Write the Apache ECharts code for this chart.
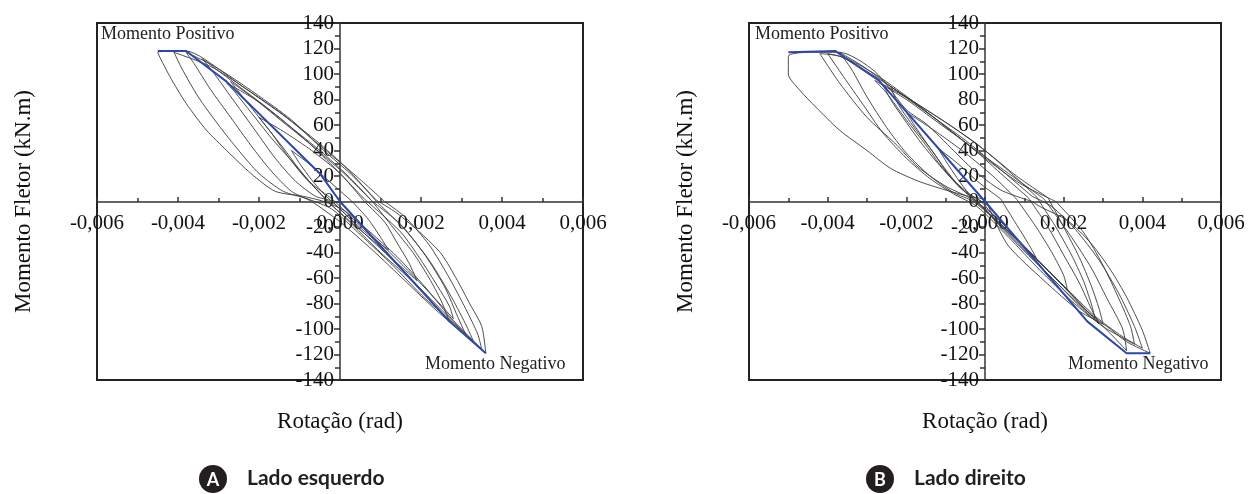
<!DOCTYPE html>
<html>
<head>
<meta charset="utf-8">
<script src="https://cdn.jsdelivr.net/npm/echarts@6/dist/echarts.min.js"></script>
<style>
  html, body { margin: 0; background: #fff; }
  #grafico { width: 1249px; height: 494px; }
</style>
</head>
<body>
<div id="grafico"></div>
<script>
// Rotação (rad) x Momento Fletor (kN.m)
var paineis = ['Lado esquerdo', 'Lado direito'];
var letras = ['A', 'B'];

// envoltória (linha azul)
var envolventeEsq = [[-0.0045, 118], [-0.0038, 118], [-0.0028, 94], [-0.0005, 22], [0, 0], [0.0027, -94], [0.0036, -119]];
var envolventeDir = [[-0.005, 117], [-0.0038, 118], [-0.0027, 95], [0, 0], [0.0026, -94], [0.0036, -119], [0.0042, -119]];

// ciclos - lado esquerdo
var cicloE1 = [[0.0003, 0], [-0.0002, 14], [-0.0007, 28], [-0.0012, 40], [-0.001, 30], [-0.0007, 17], [-0.0004, 6], [-0.0002, 0], [0.0002, -12], [0.0007, -26], [0.0012, -38], [0.001, -28], [0.0007, -14], [0.0003, 0]];
var cicloE2 = [[0.0006, 0], [0, 22], [-0.0007, 40], [-0.0014, 55], [-0.002, 66], [-0.0017, 54], [-0.0013, 36], [-0.0009, 20], [-0.0005, 7], [-0.0003, 0], [0.0003, -17], [0.0009, -33], [0.0014, -48], [0.0019, -62], [0.0017, -48], [0.0014, -32], [0.0011, -16], [0.0006, 0]];
var cicloE3 = [[0.0008, 0], [0.0002, 20], [-0.0005, 40], [-0.0012, 58], [-0.002, 78], [-0.0027, 94], [-0.0024, 82], [-0.0019, 62], [-0.0014, 42], [-0.001, 25], [-0.0006, 10], [-0.0003, 0], [0.0003, -18], [0.001, -40], [0.0017, -60], [0.0023, -80], [0.0027, -94], [0.0025, -78], [0.0022, -60], [0.0018, -40], [0.0013, -20], [0.0008, 0]];
var cicloE3b = [[0.0006, 2], [0, 22], [-0.0007, 44], [-0.0014, 62], [-0.0021, 80], [-0.0028, 93], [-0.0026, 86], [-0.0022, 70], [-0.0017, 50], [-0.0012, 32], [-0.0007, 14], [-0.0002, 2], [0.0004, -16], [0.0011, -36], [0.0018, -58], [0.0024, -78], [0.0028, -92], [0.0027, -82], [0.0024, -66], [0.002, -46], [0.0015, -24], [0.0006, 2]];
var cicloE4 = [[0.0009, 0], [0.0002, 25], [-0.0006, 48], [-0.0015, 70], [-0.0024, 90], [-0.0031, 106], [-0.0038, 117], [-0.0036, 108], [-0.0032, 88], [-0.0027, 66], [-0.0022, 44], [-0.0017, 24], [-0.0012, 8], [-0.0007, 0], [0, -16], [0.0008, -38], [0.0016, -62], [0.0024, -86], [0.0033, -110], [0.0031, -96], [0.0027, -72], [0.0022, -46], [0.0016, -22], [0.0009, 0]];
var cicloE5 = [[0.0009, 1], [0.00025, 22], [-0.0004, 40], [-0.0012, 64], [-0.0021, 85], [-0.0029, 102], [-0.0038, 118], [-0.0045, 117], [-0.0042, 98], [-0.0038, 77], [-0.0033, 56], [-0.0028, 40], [-0.0022, 22], [-0.0016, 8], [-0.0009, 4], [-0.0004, 0], [0.0001, -7], [0.0006, -20], [0.0014, -43], [0.0021, -67], [0.0027, -90], [0.0036, -119], [0.0035, -98], [0.0032, -80], [0.0029, -62], [0.0025, -41], [0.002, -25], [0.0014, -9], [0.0009, 1]];
var cicloE6 = [[0.0008, 0], [0.0001, 22], [-0.0007, 44], [-0.0015, 66], [-0.0024, 88], [-0.0034, 112], [-0.0031, 100], [-0.0026, 78], [-0.0021, 56], [-0.0016, 34], [-0.0011, 16], [-0.0006, 4], [-0.0002, 0], [0.0005, -22], [0.0013, -46], [0.0021, -72], [0.0031, -104], [0.0029, -90], [0.0026, -68], [0.0021, -42], [0.0015, -18], [0.0008, 0]];
var cicloE7 = [[0.0011, 0], [0.0004, 20], [-0.0005, 44], [-0.0014, 68], [-0.0023, 88], [-0.0032, 106], [-0.0041, 117], [-0.0039, 104], [-0.0035, 82], [-0.003, 60], [-0.0025, 40], [-0.002, 22], [-0.0014, 8], [-0.0008, 2], [-0.0002, -6], [0.0005, -26], [0.0013, -50], [0.0021, -76], [0.0029, -98], [0.0035, -116], [0.0034, -104], [0.0031, -84], [0.0027, -60], [0.0022, -34], [0.0016, -12], [0.0011, 0]];

// ciclos - lado direito
var cicloD1 = [[0.0004, 2], [-0.0002, 16], [-0.0007, 30], [-0.0012, 42], [-0.001, 32], [-0.0007, 18], [-0.0004, 6], [-0.0001, 0], [0.0003, -14], [0.0008, -30], [0.0013, -44], [0.0011, -33], [0.0008, -18], [0.0004, 2]];
var cicloD2 = [[0.0008, 2], [0.0002, 20], [-0.0005, 38], [-0.0013, 56], [-0.002, 70], [-0.0018, 60], [-0.0014, 42], [-0.001, 25], [-0.0006, 10], [-0.0002, 0], [0.0004, -18], [0.001, -36], [0.0016, -54], [0.0021, -70], [0.002, -58], [0.0017, -40], [0.0013, -20], [0.0008, 2]];
var cicloD3 = [[0.0011, 3], [0.0004, 22], [-0.0004, 44], [-0.0012, 62], [-0.002, 80], [-0.0028, 95], [-0.0025, 85], [-0.002, 64], [-0.0015, 44], [-0.0011, 27], [-0.0006, 10], [-0.0002, 0], [0.0004, -20], [0.0011, -42], [0.0018, -63], [0.0024, -82], [0.0029, -96], [0.0027, -84], [0.0024, -64], [0.002, -42], [0.0016, -20], [0.0011, 3]];
var cicloD3b = [[0.0013, 4], [0.0006, 24], [-0.0002, 45], [-0.001, 62], [-0.0018, 78], [-0.0026, 92], [-0.0024, 80], [-0.002, 62], [-0.0016, 45], [-0.0012, 30], [-0.0007, 13], [-0.0003, 2], [0.0003, -16], [0.001, -38], [0.0017, -60], [0.0023, -78], [0.0028, -92], [0.0027, -80], [0.0025, -62], [0.0022, -42], [0.0018, -20], [0.0013, 4]];
var cicloD3c = [[0.0016, 3], [0.0008, 20], [0, 40], [-0.0008, 58], [-0.0016, 74], [-0.0024, 90], [-0.0022, 76], [-0.0018, 58], [-0.0013, 38], [-0.0009, 20], [-0.0004, 6], [0.0001, -4], [0.0007, -26], [0.0014, -48], [0.0021, -70], [0.0026, -86], [0.003, -96], [0.0029, -84], [0.0027, -66], [0.0024, -44], [0.002, -20], [0.0016, 3]];
var cicloD4 = [[0.0015, 2], [0.0006, 22], [-0.0004, 44], [-0.0013, 66], [-0.0022, 86], [-0.003, 102], [-0.0037, 114], [-0.0042, 116], [-0.0037, 93], [-0.003, 66], [-0.0023, 46], [-0.0017, 27], [-0.001, 12], [-0.0004, 3], [0.0002, -10], [0.001, -35], [0.0018, -60], [0.0026, -86], [0.0032, -104], [0.0036, -117], [0.0035, -100], [0.0031, -76], [0.0027, -52], [0.0022, -28], [0.0015, 2]];
var cicloD5 = [[0.0012, 4], [0.0004, 25], [-0.0005, 48], [-0.0014, 68], [-0.0023, 88], [-0.0031, 106], [-0.0037, 117], [-0.0034, 104], [-0.003, 82], [-0.0025, 58], [-0.002, 38], [-0.0014, 20], [-0.0008, 7], [-0.0003, 0], [0.0004, -18], [0.0012, -42], [0.002, -66], [0.0028, -90], [0.0035, -106], [0.004, -115], [0.0038, -98], [0.0034, -72], [0.0029, -46], [0.0023, -22], [0.0017, -4], [0.0012, 4]];
var cicloD6 = [[0.0012, 0], [0.0004, 9], [-0.0003, 25], [-0.0008, 40], [-0.0015, 61], [-0.002, 72], [-0.0028, 102], [-0.0037, 117], [-0.0045, 117], [-0.005, 114], [-0.005, 100], [-0.0047, 87], [-0.0043, 74], [-0.0037, 56], [-0.003, 40], [-0.0024, 26], [-0.0017, 16], [-0.001, 9], [-0.0004, 4], [0, 1], [0.0002, -12], [0.0006, -35], [0.0015, -62], [0.0024, -86], [0.0031, -98], [0.0036, -110], [0.0042, -119], [0.004, -101], [0.0036, -75], [0.0032, -54], [0.0027, -33], [0.0021, -15], [0.0014, -4], [0.0012, 0]];
var cicloD7 = [[0.0018, 0], [0.0009, 14], [0, 34], [-0.0009, 56], [-0.0018, 78], [-0.0027, 98], [-0.0035, 112], [-0.004, 116], [-0.0036, 98], [-0.0031, 76], [-0.0026, 54], [-0.002, 34], [-0.0014, 18], [-0.0008, 6], [-0.0002, -4], [0.0006, -28], [0.0014, -54], [0.0022, -78], [0.003, -98], [0.0038, -112], [0.0037, -98], [0.0034, -76], [0.003, -50], [0.0025, -24], [0.0018, 0]];

var ciclosEsq = [cicloE1, cicloE2, cicloE3, cicloE3b, cicloE4, cicloE6, cicloE7, cicloE5];
var ciclosDir = [cicloD1, cicloD2, cicloD3, cicloD3b, cicloD3c, cicloD4, cicloD5, cicloD7, cicloD6];

var serif = 'Liberation Serif';
var myChart = echarts.init(document.getElementById('grafico'));

// eixos deslocados para cruzar em zero (offset em px a partir da borda do grid)
function eixoX(idx, desloc, gap) {
  return {
    gridIndex: idx, type: 'value', min: -0.006, max: 0.006, interval: 0.002,
    offset: desloc,
    name: 'Rotação (rad)', nameLocation: 'middle', nameGap: gap,
    nameTextStyle: { fontFamily: serif, fontSize: 23, color: '#111' },
    axisLine: { onZero: false, lineStyle: { color: '#333', width: 1.5 } },
    axisTick: { inside: true, length: 5, lineStyle: { color: '#333', width: 1.5 } },
    minorTick: { show: true, splitNumber: 2, length: 4, lineStyle: { color: '#333', width: 1.5 } },
    splitLine: { show: false },
    axisLabel: {
      fontFamily: serif, fontSize: 21, color: '#111', margin: 11,
      showMinLabel: true, showMaxLabel: true,
      formatter: function (v) { return v.toFixed(3).replace('.', ','); }
    }
  };
}

function eixoY(idx, desloc, gap) {
  return {
    gridIndex: idx, type: 'value', min: -140, max: 140, interval: 20,
    offset: desloc,
    name: 'Momento Fletor (kN.m)', nameLocation: 'middle', nameGap: gap,
    nameTextStyle: { fontFamily: serif, fontSize: 23, color: '#111' },
    axisLine: { onZero: false, lineStyle: { color: '#333', width: 1.5 } },
    axisTick: { length: 6, lineStyle: { color: '#333', width: 1.5 } },
    minorTick: { show: true, splitNumber: 2, length: 5, lineStyle: { color: '#333', width: 1.5 } },
    splitLine: { show: false },
    axisLabel: { fontFamily: serif, fontSize: 21, color: '#111', margin: 6, showMinLabel: true, showMaxLabel: true }
  };
}

function serieCiclo(dados, idx) {
  return {
    type: 'line', xAxisIndex: idx, yAxisIndex: idx, data: dados,
    showSymbol: false, smooth: 0.25, silent: true,
    lineStyle: { color: '#3a3a3a', width: 1, opacity: 0.9 }
  };
}

function serieEnvolvente(dados, idx) {
  return {
    type: 'line', xAxisIndex: idx, yAxisIndex: idx, data: dados,
    showSymbol: false, silent: true,
    lineStyle: { color: '#2b49a8', width: 2 }
  };
}

var series = [];
ciclosEsq.forEach(function (c) { series.push(serieCiclo(c, 0)); });
series.push(serieEnvolvente(envolventeEsq, 0));
ciclosDir.forEach(function (c) { series.push(serieCiclo(c, 1)); });
series.push(serieEnvolvente(envolventeDir, 1));

function texto(x, y, t) {
  return {
    type: 'text', x: x, y: y,
    style: { text: t, fontFamily: serif, fontSize: 18, fill: '#222', textVerticalAlign: 'middle' }
  };
}

function legenda(cx, letra, rotulo) {
  return [
    { type: 'circle', shape: { cx: cx, cy: 479, r: 14 }, style: { fill: '#231f20' } },
    { type: 'text', x: cx, y: 480, style: { text: letra, fill: '#fff', font: 'bold 18px Lato', textAlign: 'center', textVerticalAlign: 'middle' } },
    { type: 'text', x: cx + 34, y: 478, style: { text: rotulo, fill: '#231f20', font: 'bold 21px Lato', textVerticalAlign: 'middle' } }
  ];
}

var option = {
  animation: false,
  backgroundColor: '#fff',
  grid: [
    { left: 97, top: 23, width: 486, height: 357, show: true, borderColor: '#222', borderWidth: 2, containLabel: false, outerBoundsMode: 'none' },
    { left: 749, top: 23, width: 472, height: 357, show: true, borderColor: '#222', borderWidth: 2, containLabel: false, outerBoundsMode: 'none' }
  ],
  xAxis: [eixoX(0, -178, 208), eixoX(1, -178, 208)],
  yAxis: [eixoY(0, -243, 305), eixoY(1, -236, 288)],
  series: series,
  graphic: [
    texto(101, 34, 'Momento Positivo'),
    texto(425, 364, 'Momento Negativo'),
    texto(755, 34, 'Momento Positivo'),
    texto(1068, 364, 'Momento Negativo')
  ].concat(legenda(213, letras[0], paineis[0]), legenda(880, letras[1], paineis[1]))
};

myChart.setOption(option);
</script>
</body>
</html>
